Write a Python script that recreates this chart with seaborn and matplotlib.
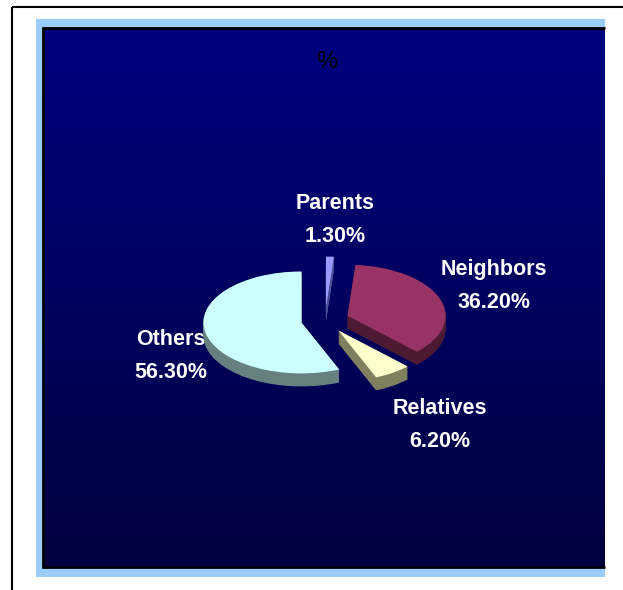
import numpy as np
import matplotlib
matplotlib.use("Agg")
import matplotlib.pyplot as plt
import seaborn as sns
from matplotlib.patches import Rectangle
from matplotlib.colors import to_rgb

# ---- data ----
categories = ["Parents", "Neighbors", "Relatives", "Others"]
values = [1.3, 36.2, 6.2, 56.3]
title = "%"

# ---- style ----
top_colors = ["#9999FF", "#993366", "#FFFFCC", "#CCFFFF"]
side_colors = ["#4C4C99", "#4D1A33", "#80805F", "#668080"]

sns.set_theme(style="white")
plt.rcParams["font.family"] = ["Liberation Sans", "DejaVu Sans"]

W, H = 623, 590
fig = plt.figure(figsize=(W / 100, H / 100), dpi=100)
fig.patch.set_facecolor("white")

bg = fig.add_axes([0, 0, 1, 1])
bg.axis("off")

# outer frame
bg.add_patch(Rectangle((12, 7), 800, 800, fill=False, ec="black", lw=1.5, zorder=0))
# light blue border
bg.add_patch(Rectangle((36, 19), 605 - 36, 577 - 19, fc="#99CCFF", ec="none", zorder=0.5))
# gradient plot area
g = np.linspace(0, 1, 256)
c_top = np.array(to_rgb("#000080"))
c_bot = np.array(to_rgb("#00003E"))
img = c_top[None, :] * (1 - g[:, None]) + c_bot[None, :] * g[:, None]
bg.imshow(img[:, None, :], extent=(43, 605, 567, 27), aspect="auto", zorder=1,
          interpolation="bilinear")
bg.plot([605, 43, 43, 605], [27.5, 27.5, 566.5, 566.5], color="black", lw=2,
        zorder=2, solid_joinstyle="miter", solid_capstyle="butt")
bg.set_xlim(0, W)
bg.set_ylim(H, 0)

# title
bg.text(327, 62, title, ha="center", va="center", fontsize=17, color="black", zorder=3)

# ---- 3D-looking exploded pie ----
pa = fig.add_axes([0, 0, 1, 1])
pa.patch.set_alpha(0)
k = 0.52          # vertical squash (tilt)
R = 98            # radius in px
cx, cy_px = 325, 320
cy = (H - cy_px) / k
depth_px = 13
explode = [0.245 * R] * len(values)
nlayers = 26
for i in range(nlayers, 0, -1):
    off = depth_px * i / nlayers / k
    pa.pie(values, colors=side_colors, startangle=90, counterclock=False,
           explode=explode, radius=R, center=(cx, cy - off),
           wedgeprops=dict(linewidth=0), frame=False)
pa.pie(values, colors=top_colors, startangle=90, counterclock=False,
       explode=explode, radius=R, center=(cx, cy),
       wedgeprops=dict(linewidth=0), frame=False)
pa.set_aspect("auto")
pa.set_xlim(0, W)
pa.set_ylim(0, H / k)
pa.axis("off")

# ---- labels ----
label_pos = {"Parents": (335, 220), "Neighbors": (494, 286),
             "Relatives": (440, 425), "Others": (171, 356)}
for name, v in zip(categories, values):
    x, y = label_pos[name]
    bg.text(x, y, f"{name}\n{v:.2f}%", ha="center", va="center", fontsize=15.5,
            fontweight="bold", color="white", linespacing=1.75, zorder=5)

fig.savefig("out.png", dpi=100)
